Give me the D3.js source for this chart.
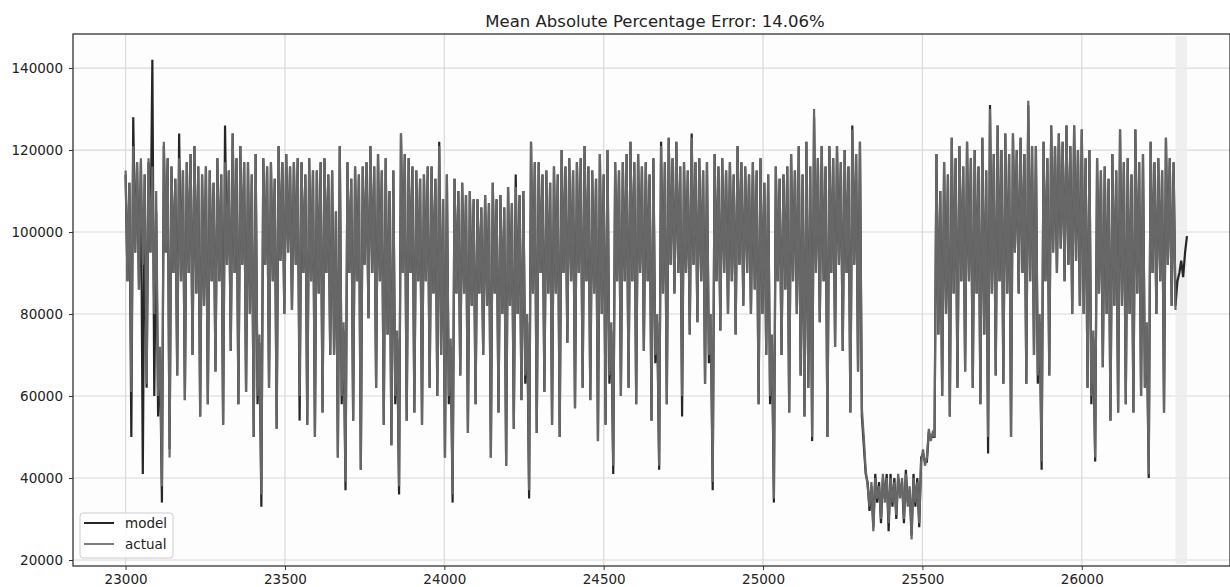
<!DOCTYPE html>
<html><head><meta charset="utf-8">
<script src="https://cdn.jsdelivr.net/npm/d3@7"></script>
<style>
body{margin:0;background:#fff}
svg{display:block}
text{font-family:"DejaVu Sans",sans-serif;fill:#222}
</style>
</head><body>
<svg id="chart" width="1230" height="587"></svg>
<script>
// ---------------- data (values in thousands, one point every 6 index steps) ----------------
const title = "Mean Absolute Percentage Error: 14.06%";
const seriesNames = ["model", "actual"];
const xTickValues = [23000, 23500, 24000, 24500, 25000, 25500, 26000];
const yTickValues = [20000, 40000, 60000, 80000, 100000, 120000, 140000];
const startIndex = 23000;
const sampleStep = 6;

const actual = [
 115,88,112,61, 121,95,117,86, 118,92,114,63, 118,95,116,80, 110,60,72,38, 122,95,118,45, 116,90,113,65, 118,88,115,59, 117,90,119,70, 121,85,116,55,
 114,82,116,58, 115,88,112,66, 118,88,114,53, 117,92,115,71, 124,90,118,58, 121,92,117,61, 117,80,114,50, 119,60,75,36, 118,92,116,62, 117,88,113,52,
 121,93,117,80, 119,95,116,81, 117,92,118,60, 117,90,114,53, 118,88,115,50, 115,85,117,56, 118,90,114,70, 115,70,105,45, 121,60,78,39, 117,90,113,54,
 116,88,114,42, 116,92,117,79, 121,90,116,62, 119,88,115,53, 118,75,110,48, 115,60,76,38, 124,90,119,54, 118,90,116,56, 115,88,113,53, 114,88,116,62,
 116,85,113,60, 121,70,108,45, 114,60,74,36, 113,85,110,65, 112,85,109,51, 110,82,108,58, 108,85,106,70, 109,82,107,45, 112,85,108,56, 109,80,106,43,
 111,82,107,52, 111,80,109,59, 110,65,80,37, 122,85,117,51, 117,90,114,61, 115,85,112,53, 116,85,114,50, 120,90,116,73, 118,88,115,57, 117,90,118,62,
 121,88,116,59, 115,85,113,49, 119,80,114,53, 120,65,78,43, 117,88,115,60, 117,88,119,62, 122,88,117,58, 119,90,116,71, 117,88,114,54, 118,70,80,43,
 121,85,117,58, 123,92,118,85, 122,90,116,60, 117,90,115,75, 123,92,117,78, 118,88,115,63, 117,70,80,39, 119,88,116,76, 118,90,115,80, 117,88,114,75,
 121,92,117,82, 116,90,114,80, 117,86,115,58, 118,80,112,70, 114,60,75,35, 116,88,113,70, 114,86,116,56, 119,88,115,80, 121,65,114,55, 122,62,116,50,
 130,90,118,78, 121,88,116,50, 121,90,118,72, 121,92,117,71, 120,90,116,56, 125,92,119,66, 122,57,50,42, 38,33,39,27, 40,35,38,30, 41,34,40,29,
 40,34,39,31, 41,35,40,30, 41,33,38,25, 40,34,39,29, 44,47,43,45, 52,49,51,50, 119,75,110,60, 117,80,114,55, 123,85,118,62, 121,88,116,66,
 122,88,118,62, 120,85,116,58, 123,75,115,50, 130,85,119,65, 126,88,120,63, 124,85,119,50, 124,95,120,85, 123,90,119,63, 132,88,121,70, 121,65,80,44,
 122,88,118,65, 126,95,121,90, 124,96,122,88, 126,92,121,80, 126,93,120,82, 125,80,118,62, 120,60,76,45, 118,85,115,67, 116,80,113,54, 119,82,115,56,
 125,82,117,58, 118,80,114,56, 125,85,117,60, 119,62,78,41, 122,90,117,80, 118,88,115,56, 123,92,118,82, 117,81
];

const model = [
 114,88,112,50, 128,95,117,86, 117,41,114,62, 117,95,142,60, 105,55,70,34, 121,95,118,47, 116,90,113,65, 124,88,115,59, 117,90,119,70, 121,85,116,55,
 114,82,116,58, 115,88,112,66, 118,88,114,53, 126,92,115,71, 124,90,118,58, 121,92,117,61, 117,80,114,50, 119,58,73,33, 118,92,116,62, 117,88,113,52,
 121,93,117,80, 119,95,116,81, 117,92,118,54, 117,90,114,53, 118,88,115,50, 115,85,117,56, 118,90,114,70, 115,70,105,45, 121,58,76,37, 117,90,113,54,
 116,88,114,42, 116,92,117,79, 121,90,116,62, 119,88,115,53, 118,75,110,48, 115,58,74,36, 124,90,119,54, 118,90,116,56, 115,88,113,53, 114,88,116,62,
 116,85,113,60, 122,70,108,45, 114,58,72,34, 113,85,110,65, 112,85,109,51, 110,82,108,58, 108,85,106,70, 109,82,107,45, 112,85,108,56, 109,80,106,43,
 111,82,107,52, 114,80,109,59, 110,63,78,35, 122,85,117,51, 117,90,114,61, 115,85,112,53, 116,85,114,50, 120,90,116,73, 118,88,115,57, 117,90,118,62,
 121,88,116,59, 115,85,113,49, 119,80,114,53, 120,63,76,41, 117,88,115,60, 117,88,119,62, 122,88,117,58, 119,90,116,71, 117,88,114,54, 118,68,78,42,
 122,85,117,58, 123,92,118,85, 122,90,116,55, 117,90,115,75, 124,92,117,78, 118,88,115,63, 117,68,78,37, 119,88,116,76, 118,90,115,80, 117,88,114,75,
 121,92,117,82, 116,90,114,80, 117,86,115,58, 118,80,112,70, 114,58,73,34, 116,88,113,70, 114,86,116,56, 119,88,115,80, 121,65,114,55, 122,62,116,49,
 128,90,118,78, 121,88,116,50, 121,90,118,72, 121,92,117,71, 120,90,116,56, 126,92,119,66, 122,55,48,41, 39,32,38,28, 41,34,39,29, 40,35,41,27,
 41,33,40,30, 40,36,39,29, 42,34,37,26, 41,33,40,28, 45,46,44,44, 51,50,50,50, 119,75,110,60, 117,80,114,55, 123,85,118,62, 121,88,116,66,
 122,88,118,62, 120,85,116,58, 123,75,115,46, 131,85,119,65, 126,88,120,63, 124,85,119,50, 124,95,120,85, 123,90,119,63, 131,88,121,70, 121,63,78,42,
 122,88,118,65, 126,95,121,90, 124,96,122,88, 126,92,121,80, 126,93,120,82, 125,80,118,62, 120,58,74,44, 118,85,115,67, 116,80,113,54, 119,82,115,56,
 125,82,117,58, 118,80,114,56, 125,85,117,60, 119,62,76,40, 122,90,117,80, 118,88,115,56, 123,92,118,82, 117,82,88,90, 93,89,95,99
];

// ---------------- drawing ----------------
const svg = d3.select("#chart");
const plotL = 73, plotR = 1230, plotT = 34, plotB = 566;
const x = d3.scaleLinear().domain([22835, 26465]).range([plotL, plotR]);
const y = d3.scaleLinear().domain([18540, 148300]).range([plotB, plotT]);
const colors = {model: "#262626", actual: "#676767"};

svg.append("rect").attr("x", plotL).attr("y", plotT).attr("width", plotR - plotL).attr("height", plotB - plotT)
  .attr("fill", "#fdfdfd");

const grid = svg.append("g");
grid.selectAll("line.vx").data(xTickValues).join("line").attr("class", "vx")
  .attr("x1", d => x(d)).attr("x2", d => x(d)).attr("y1", plotT).attr("y2", plotB)
  .attr("stroke", "#d9d9d9").attr("stroke-width", 1.2);
grid.selectAll("line.hy").data(yTickValues).join("line").attr("class", "hy")
  .attr("x1", plotL).attr("x2", plotR).attr("y1", d => y(d)).attr("y2", d => y(d))
  .attr("stroke", "#d9d9d9").attr("stroke-width", 1.2);

const lastActualX = startIndex + (actual.length - 1) * sampleStep;
const lastModelX = startIndex + (model.length - 1) * sampleStep;
svg.append("rect")
  .attr("x", x(lastActualX)).attr("width", x(lastModelX) - x(lastActualX))
  .attr("y", plotT + 2).attr("height", plotB - plotT - 4)
  .attr("fill", "#ececec").attr("opacity", 0.85);

const line = d3.line()
  .x((d, i) => x(startIndex + i * sampleStep))
  .y(d => y(d * 1000));
svg.append("path").datum(model).attr("d", line)
  .attr("fill", "none").attr("stroke", colors.model).attr("stroke-width", 2.2);
svg.append("path").datum(actual).attr("d", line)
  .attr("fill", "none").attr("stroke", colors.actual).attr("stroke-width", 2.2);

const xAxis = d3.axisBottom(x).tickValues(xTickValues).tickSize(4).tickPadding(4).tickFormat(d3.format("d"));
const yAxis = d3.axisLeft(y).tickValues(yTickValues).tickSize(4).tickPadding(6).tickFormat(d3.format("d"));
const gx = svg.append("g").attr("transform", `translate(0,${plotB})`).call(xAxis);
const gy = svg.append("g").attr("transform", `translate(${plotL},0)`).call(yAxis);
[gx, gy].forEach(g => {
  g.select(".domain").remove();
  g.selectAll(".tick line").attr("stroke", "#333").attr("stroke-width", 1);
  g.selectAll(".tick text").attr("font-size", "13.5px").attr("fill", "#222")
    .attr("font-family", "DejaVu Sans, sans-serif");
});

svg.append("rect").attr("x", plotL).attr("y", plotT).attr("width", plotR - plotL).attr("height", plotB - plotT)
  .attr("fill", "none").attr("stroke", "#333").attr("stroke-width", 1.3);

svg.append("text").attr("x", 655).attr("y", 27).attr("text-anchor", "middle")
  .attr("font-size", "16.5px").text(title);

const lg = svg.append("g");
lg.append("rect").attr("x", 80).attr("y", 513).attr("width", 93).attr("height", 45).attr("rx", 3)
  .attr("fill", "#fff").attr("fill-opacity", 0.85).attr("stroke", "#cccccc");
seriesNames.forEach((name, i) => {
  const yy = 523 + i * 21;
  lg.append("line").attr("x1", 84).attr("x2", 114).attr("y1", yy).attr("y2", yy)
    .attr("stroke", name === "actual" ? "#7d7d7d" : colors.model).attr("stroke-width", 2);
  lg.append("text").attr("x", 125).attr("y", yy + 5).attr("font-size", "13.5px").text(name);
});
</script>
</body></html>
